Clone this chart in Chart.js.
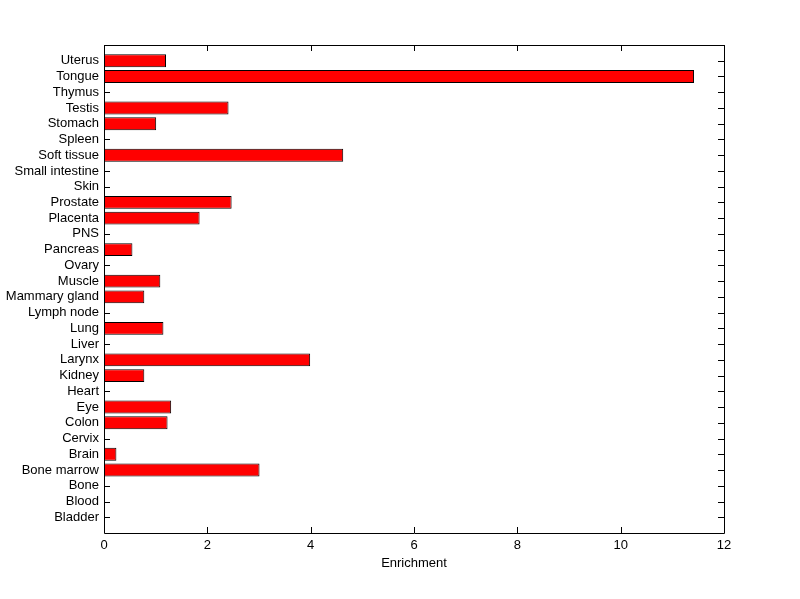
<!DOCTYPE html>
<html>
<head>
<meta charset="utf-8">
<script src="https://cdn.jsdelivr.net/npm/chart.js@4/dist/chart.umd.min.js"></script>
<style>
  html, body { margin: 0; padding: 0; background: #fff; }
  canvas { display: block; }
</style>
</head>
<body>
<canvas id="chart" width="800" height="599"></canvas>
<script>
// categories listed bottom to top (y = 1 .. 30)
const tissues = ["Bladder", "Blood", "Bone", "Bone marrow", "Brain", "Cervix", "Colon", "Eye", "Heart", "Kidney",
  "Larynx", "Liver", "Lung", "Lymph node", "Mammary gland", "Muscle", "Ovary", "Pancreas", "PNS", "Placenta",
  "Prostate", "Skin", "Small intestine", "Soft tissue", "Spleen", "Stomach", "Testis", "Thymus", "Tongue", "Uterus"];
const enrichment = [0, 0, 0, 3.01, 0.24, 0, 1.23, 1.30, 0, 0.78,
  3.99, 0, 1.15, 0, 0.78, 1.09, 0, 0.55, 0, 1.85,
  2.47, 0, 0, 4.63, 0, 1.01, 2.41, 0, 11.42, 1.20];
const xTicks = [0, 2, 4, 6, 8, 10, 12];

const font = { family: "'Liberation Sans', Arial, sans-serif", size: 13 };

// MATLAB-style box with inward ticks on all sides, drawn under the bars
const boxTicks = {
  id: "boxTicks",
  beforeDatasetsDraw(chart) {
    const ctx = chart.ctx;
    const a = chart.chartArea;
    const xs = chart.scales.x;
    const ys = chart.scales.y;
    ctx.save();
    ctx.strokeStyle = "#000";
    ctx.lineWidth = 1;
    ctx.beginPath();
    ctx.rect(Math.round(a.left) + 0.5, Math.round(a.top) + 0.5, Math.round(a.right - a.left), Math.round(a.bottom - a.top));
    xTicks.forEach((v) => {
      const px = Math.round(xs.getPixelForValue(v)) + 0.5;
      ctx.moveTo(px, a.bottom);
      ctx.lineTo(px, a.bottom - 6);
      ctx.moveTo(px, a.top);
      ctx.lineTo(px, a.top + 6);
    });
    tissues.forEach((t, i) => {
      const py = Math.round(ys.getPixelForValue(i + 1)) + 0.5;
      ctx.moveTo(a.left, py);
      ctx.lineTo(a.left + 6, py);
      ctx.moveTo(a.right, py);
      ctx.lineTo(a.right - 6, py);
    });
    ctx.stroke();
    ctx.restore();
  },
};

const points = [];
tissues.forEach((t, i) => {
  if (enrichment[i] > 0) points.push({ x: enrichment[i], y: i + 1 });
});

new Chart(document.getElementById("chart"), {
  type: "bar",
  data: {
    datasets: [{
      data: points,
      backgroundColor: "#ff0000",
      borderColor: "#000000",
      borderWidth: 1,
      borderSkipped: false,
      barPercentage: 0.82,
      categoryPercentage: 1,
    }],
  },
  plugins: [boxTicks],
  options: {
    indexAxis: "y",
    responsive: false,
    animation: false,
    layout: { padding: { top: 45, right: 76, left: 0, bottom: 24 } },
    plugins: { legend: { display: false }, tooltip: { enabled: false } },
    scales: {
      x: {
        type: "linear",
        min: 0,
        max: 12,
        afterBuildTicks: (scale) => { scale.ticks = xTicks.map((v) => ({ value: v })); },
        afterFit: (scale) => { scale.height = 42; },
        grid: { display: false, drawTicks: false },
        border: { display: false },
        ticks: { color: "#000", font: font, padding: 5, maxRotation: 0 },
        title: { display: true, text: "Enrichment", color: "#000", font: font, padding: { top: 1 } },
      },
      y: {
        type: "linear",
        min: 0,
        max: 31,
        offset: false,
        afterBuildTicks: (scale) => { scale.ticks = tissues.map((t, i) => ({ value: i + 1 })); },
        afterFit: (scale) => { scale.width = 104; },
        grid: { display: false, drawTicks: false, offset: false },
        border: { display: false },
        ticks: {
          color: "#000",
          font: font,
          padding: 5,
          autoSkip: false,
          callback: (v) => tissues[v - 1],
        },
      },
    },
  },
});
</script>
</body>
</html>
